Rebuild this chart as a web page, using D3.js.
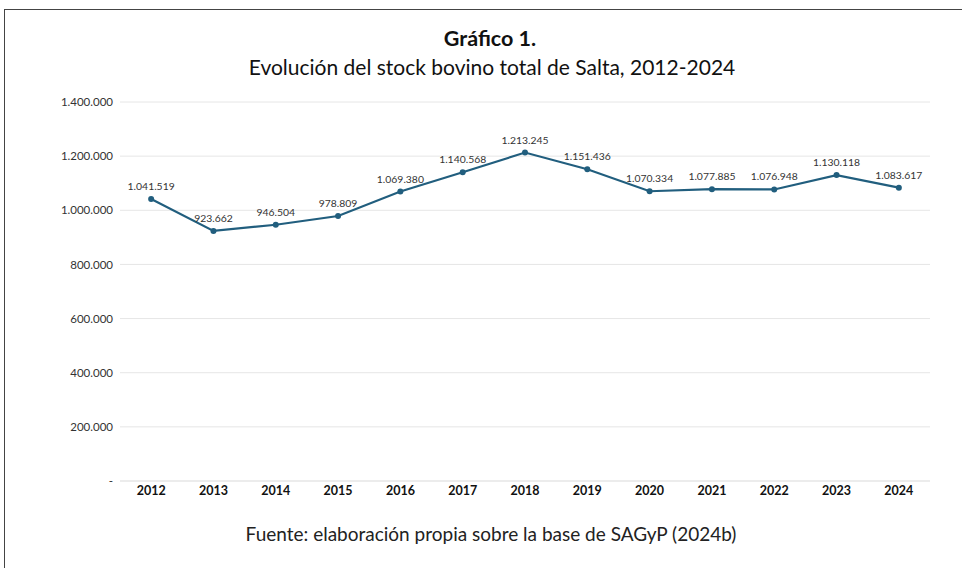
<!DOCTYPE html>
<html><head><meta charset="utf-8">
<script src="https://cdn.jsdelivr.net/npm/d3@7"></script>
<style>body{margin:0;background:#fff}svg{display:block}</style>
</head><body>
<svg id="c" width="962" height="568"></svg>
<script>
const years = ["2012","2013","2014","2015","2016","2017","2018","2019","2020","2021","2022","2023","2024"];
const stock = [1041519,923662,946504,978809,1069380,1140568,1213245,1151436,1070334,1077885,1076948,1130118,1083617];
const yTicks = [0,200000,400000,600000,800000,1000000,1200000,1400000];

const svg = d3.select("#c");
const font = "Lato, 'Open Sans', sans-serif";
const fmt = v => v === 0 ? "-" : d3.format(",")(v).replace(/,/g, ".");

// frame
svg.append("rect").attr("x",4.5).attr("y",9.5).attr("width",980).attr("height",600)
  .attr("fill","none").attr("stroke","#444").attr("stroke-width",1);

const x = d3.scaleBand().domain(years).range([120,930]);
const y = d3.scaleLinear().domain([0,1400000]).range([481,102]);

// grid
svg.append("g").selectAll("line").data(yTicks).join("line")
  .attr("x1",120).attr("x2",930).attr("y1",d=>y(d)).attr("y2",d=>y(d))
  .attr("stroke",d=>d===0?"#d9d9d9":"#e6e6e6").attr("stroke-width",1);

// y axis labels
const ya = svg.append("g").attr("transform","translate(113,0)")
  .call(d3.axisLeft(y).tickValues(yTicks).tickFormat(fmt).tickSize(0).tickPadding(0));
ya.select(".domain").remove();
ya.selectAll("text").attr("font-family",font).attr("font-size",11.5).attr("fill","#333");

// x axis labels
const xa = svg.append("g").attr("transform","translate(0,482)")
  .call(d3.axisBottom(x).tickSize(0).tickPadding(4));
xa.select(".domain").remove();
xa.selectAll("text").attr("font-family",font).attr("font-size",12.5).attr("font-weight","bold").attr("fill","#111");

const pts = years.map((yr,i)=>({yr, v:stock[i]}));
const cx = d => x(d.yr)+x.bandwidth()/2;

svg.append("path").datum(pts)
  .attr("d", d3.line().x(cx).y(d=>y(d.v)))
  .attr("fill","none").attr("stroke","#215e7e").attr("stroke-width",2.2);

svg.append("g").selectAll("circle").data(pts).join("circle")
  .attr("cx",cx).attr("cy",d=>y(d.v)).attr("r",3).attr("fill","#215e7e");

svg.append("g").selectAll("text").data(pts).join("text")
  .attr("x",cx).attr("y",d=>y(d.v)-9).attr("text-anchor","middle")
  .attr("font-family",font).attr("font-size",10.4).attr("fill","#333")
  .text(d=>fmt(d.v));

// titles
svg.append("text").attr("x",490).attr("y",46).attr("text-anchor","middle")
  .attr("font-family",font).attr("font-size",21.5).attr("font-weight","bold").attr("fill","#111")
  .text("Gráfico 1.");
svg.append("text").attr("x",492).attr("y",75).attr("text-anchor","middle")
  .attr("font-family",font).attr("font-size",21).attr("fill","#111")
  .text("Evolución del stock bovino total de Salta, 2012-2024");
svg.append("text").attr("x",491).attr("y",541).attr("text-anchor","middle")
  .attr("font-family",font).attr("font-size",19).attr("fill","#222")
  .text("Fuente: elaboración propia sobre la base de SAGyP (2024b)");
</script>
</body></html>
